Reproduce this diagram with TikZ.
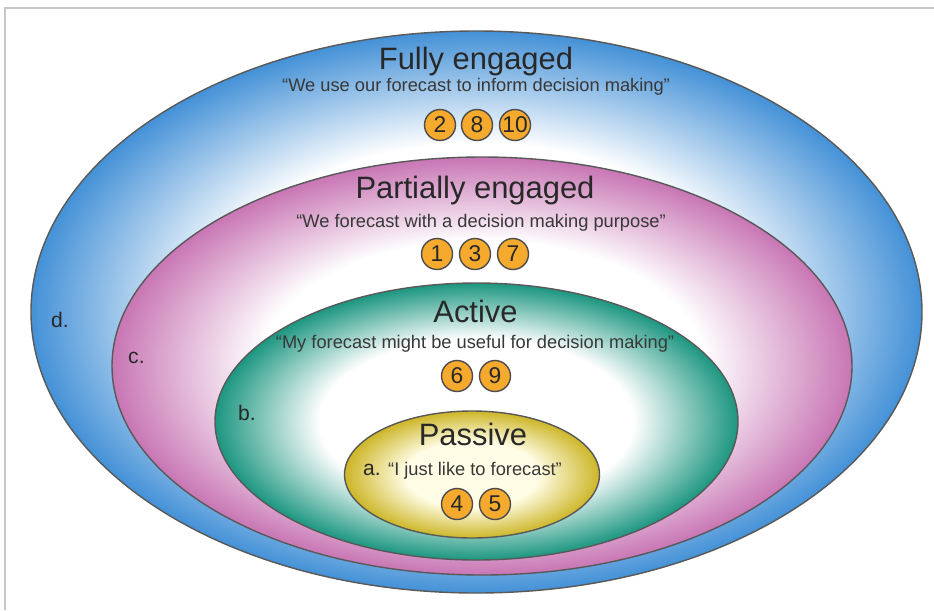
\documentclass[tikz,border=0pt]{standalone}
\usepackage{fontspec}
\setmainfont{Liberation Sans}
\usetikzlibrary{shapes.geometric}

\definecolor{ringblue}{RGB}{68,145,215}
\definecolor{ringpink}{RGB}{200,118,180}
\definecolor{ringteal}{RGB}{28,150,128}
\definecolor{ringyellow}{RGB}{205,182,40}
\definecolor{paleyellow}{RGB}{255,253,230}
\definecolor{badgeorange}{RGB}{245,170,45}
\definecolor{inkgray}{RGB}{40,40,40}

\pgfdeclareradialshading{blueshade}{\pgfpoint{0bp}{0bp}}{color(0bp)=(white); color(15bp)=(white); color(25bp)=(ringblue); color(50bp)=(ringblue)}
\pgfdeclareradialshading{pinkshade}{\pgfpoint{0bp}{0bp}}{color(0bp)=(white); color(15bp)=(white); color(25bp)=(ringpink); color(50bp)=(ringpink)}
\pgfdeclareradialshading{tealshade}{\pgfpoint{0bp}{0bp}}{color(0bp)=(white); color(15bp)=(white); color(25bp)=(ringteal); color(50bp)=(ringteal)}
\pgfdeclareradialshading{yellowshade}{\pgfpoint{0bp}{0bp}}{color(0bp)=(paleyellow); color(13bp)=(paleyellow); color(25bp)=(ringyellow); color(50bp)=(ringyellow)}

\begin{document}
\begin{tikzpicture}[
myring/.style={ellipse, draw=black!65, line width=0.8pt, shade, inner sep=0pt},
mytitle/.style={anchor=base, text=inkgray, font=\fontsize{17.6}{20}\selectfont},
myquote/.style={anchor=base, text=black!78, font=\fontsize{10.4}{12}\selectfont},
mybadge/.style={circle, draw=black!70, line width=0.8pt, fill=badgeorange, minimum size=0.62cm, inner sep=0pt, text=inkgray, font=\fontsize{13}{14}\selectfont},
mylabel/.style={anchor=base west, text=inkgray, font=\fontsize{12}{13}\selectfont}
]

\fill[white] (0,0) rectangle (18.68,-12.2);
\useasboundingbox (0,0) rectangle (18.68,-12.2);
\draw[black!22, line width=0.6pt] (0.1,-12.2) -- (0.1,-0.16) -- (18.68,-0.16);

% the four rings, outermost first
\node (fully) at (9.53, -6.24) [myring, shading=blueshade, minimum width=17.82cm, minimum height=11.24cm] {};
\node (partial) at (9.64, -7.32) [myring, shading=pinkshade, minimum width=14.8cm, minimum height=8.36cm] {};
\node (active) at (9.53, -8.43) [myring, shading=tealshade, minimum width=10.46cm, minimum height=5.54cm] {};
\node (passive) at (9.44, -9.49) [myring, shading=yellowshade, minimum width=5.1cm, minimum height=2.54cm] {};

\node (fullytitle) at (9.52, -1.38) [mytitle] {Fully engaged};
\node (fullyquote) at (9.52, -1.83) [myquote] {“We use our forecast to inform decision making”};
\node (b2) at (8.8, -2.5) [mybadge] {2};
\node (b8) at (9.54, -2.5) [mybadge] {8};
\node (b10) at (10.3, -2.5) [mybadge] {10};

\node (partialtitle) at (9.5, -3.96) [mytitle] {Partially engaged};
\node (partialquote) at (9.62, -4.54) [myquote] {“We forecast with a decision making purpose”};
\node (b1) at (8.74, -5.08) [mybadge] {1};
\node (b3) at (9.5, -5.08) [mybadge] {3};
\node (b7) at (10.26, -5.08) [mybadge] {7};

\node (activetitle) at (9.51, -6.44) [mytitle] {Active};
\node (activequote) at (9.5, -6.96) [myquote] {“My forecast might be useful for decision making”};
\node (b6) at (9.14, -7.52) [mybadge] {6};
\node (b9) at (9.9, -7.52) [mybadge] {9};

\node (passivetitle) at (9.46, -8.9) [mytitle] {Passive};
\node (passivequote) at (9.5, -9.5) [myquote] {“I just like to forecast”};
\node (b4) at (9.14, -10.08) [mybadge] {4};
\node (b5) at (9.9, -10.08) [mybadge] {5};

\node (la) at (7.14, -9.5) [mylabel] {a.};
\node (lb) at (4.64, -8.4) [mylabel] {b.};
\node (lc) at (2.44, -7.26) [mylabel] {c.};
\node (ld) at (0.9, -6.54) [mylabel] {d.};

\end{tikzpicture}
\end{document}
